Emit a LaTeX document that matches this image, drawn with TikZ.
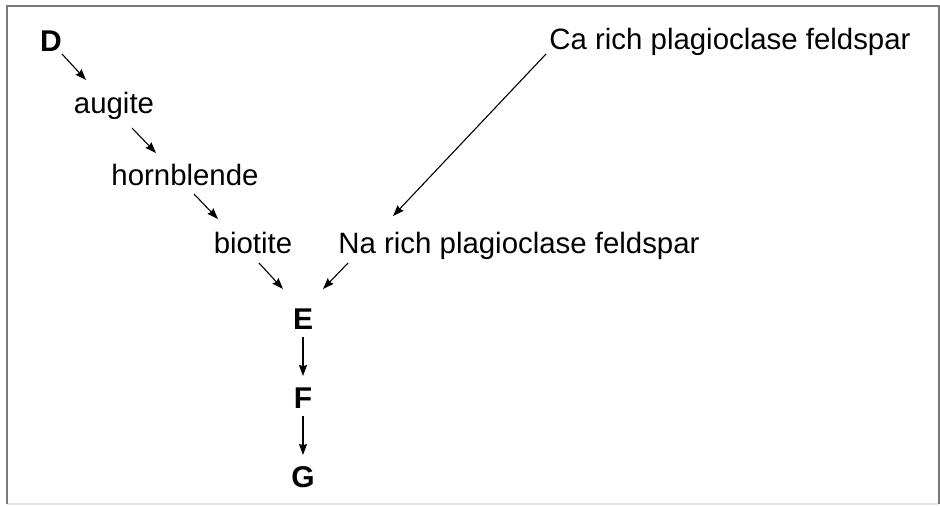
\documentclass[tikz,border=0pt]{standalone}
\usepackage{fontspec}
\setmainfont{Liberation Sans}
\usetikzlibrary{arrows.meta}
\begin{document}
\begin{tikzpicture}[x=0.5pt,y=-0.5pt,
  mineral/.style={anchor=base,inner sep=0pt,font=\fontsize{14.7}{17}\selectfont},
  stage/.style={anchor=base,inner sep=0pt,font=\fontsize{15}{17}\selectfont\bfseries},
  arr/.style={-{Stealth[length=5.5pt,width=4pt,inset=0.6pt]},line width=0.55pt},
  frameline/.style={draw=black!52,line width=0.8pt}]
\useasboundingbox (0,0) rectangle (940,505);
% frame
\draw[draw=black!10,line width=0.8pt] (7,504) -- (939,504);
\draw[frameline] (7,504) -- (7,6) -- (939,6) -- (939,504);

% discontinuous branch
\node[stage]   (D)   at (51,51)   {D};
\node[mineral] (aug) at (114,113) {augite};
\node[mineral] (hbl) at (185,185) {hornblende};
\node[mineral] (bio) at (253,253) {biotite};

% continuous branch
\node[mineral,anchor=base west] (ca) at (549,49)  {Ca rich plagioclase feldspar};
\node[mineral,anchor=base west] (na) at (338,253) {Na rich plagioclase feldspar};

% common path
\node[stage] (E) at (303,329) {E};
\node[stage] (F) at (303,408) {F};
\node[stage] (G) at (303,487) {G};

\draw[arr] ([shift={(11,3)}]D.base)    -- ([shift={(-28,-33)}]aug.base);
\draw[arr] ([shift={(18,15)}]aug.base) -- ([shift={(-29,-32)}]hbl.base);
\draw[arr] ([shift={(9,9)}]hbl.base)   -- ([shift={(-35,-34)}]bio.base);
\draw[arr] ([shift={(6,10)}]bio.base)  -- ([shift={(-20,-40)}]E.base);

\draw[arr] ([shift={(-3,5)}]ca.base west)  -- ([shift={(55,-37)}]na.base west);
\draw[arr] ([shift={(10,10)}]na.base west) -- ([shift={(20,-40)}]E.base);

\draw[arr] ([shift={(0,8)}]E.base) -- ([shift={(0,-32)}]F.base);
\draw[arr] ([shift={(0,8)}]F.base) -- ([shift={(0,-32)}]G.base);
\end{tikzpicture}
\end{document}
